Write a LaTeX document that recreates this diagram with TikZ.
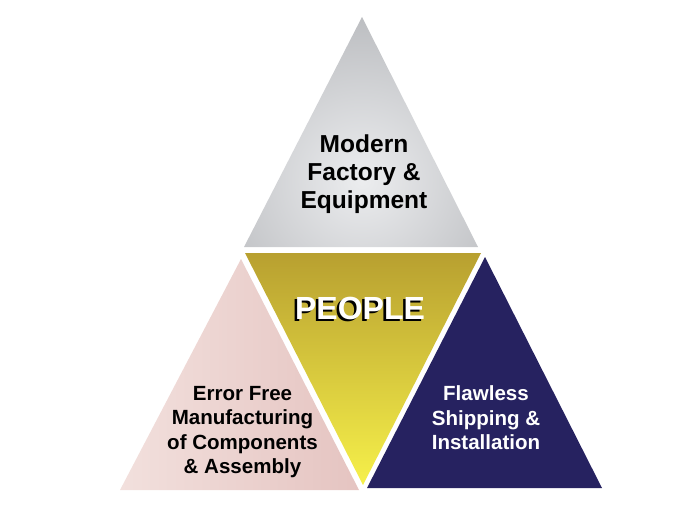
\documentclass[tikz,border=0pt]{standalone}
\usepackage{fontspec}
\setmainfont{Liberation Sans}
\definecolor{grayin}{RGB}{236,237,239}
\definecolor{grayout}{RGB}{158,160,164}
\definecolor{goldtop}{RGB}{184,160,48}
\definecolor{goldbot}{RGB}{246,240,74}
\definecolor{pinkl}{RGB}{242,224,221}
\definecolor{pinkr}{RGB}{229,196,193}
\definecolor{navy}{RGB}{38,34,96}
\newcommand{\shadowed}[1]{\makebox[0pt][l]{\hspace{-1.9pt}\raisebox{-1.5pt}{\color{black}#1}}#1}
\begin{document}
\begin{tikzpicture}[x=0.75pt,y=-0.75pt,
    toptext/.style={font=\fontsize{18.4}{21}\selectfont\bfseries, align=center},
    lowtext/.style={font=\fontsize{15.4}{18.4}\selectfont\bfseries, align=center},
    bigtext/.style={font=\fontsize{24}{28}\selectfont\bfseries}]
  \useasboundingbox (0,0) rectangle (696,510);

  % top triangle
  \begin{scope}
    \clip (362,17) -- (478,247) -- (244,247) -- cycle;
    \shade[inner color=grayin, outer color=grayout] (362,180) circle (200pt);
  \end{scope}
  % middle triangle
  \shade[top color=goldtop, bottom color=goldbot] (245,253) -- (481,253) -- (363,485) -- cycle;
  % left triangle
  \shade[left color=pinkl, right color=pinkr] (241,259) -- (359,490) -- (120,490) -- cycle;
  % right triangle
  \fill[navy] (485,257) -- (602,488) -- (367,488) -- cycle;

  \node[toptext] (factory) at (364,174) {Modern\\Factory \&\\Equipment};
  \node[bigtext, white] (people) at (360,309) {\shadowed{PEOPLE}};
  \node[lowtext] (making) at (242.5,432) {Error Free\\Manufacturing\\of Components\\\& Assembly};
  \node[lowtext, white] (shipping) at (486,418) {Flawless\\Shipping \&\\Installation};
\end{tikzpicture}
\end{document}
